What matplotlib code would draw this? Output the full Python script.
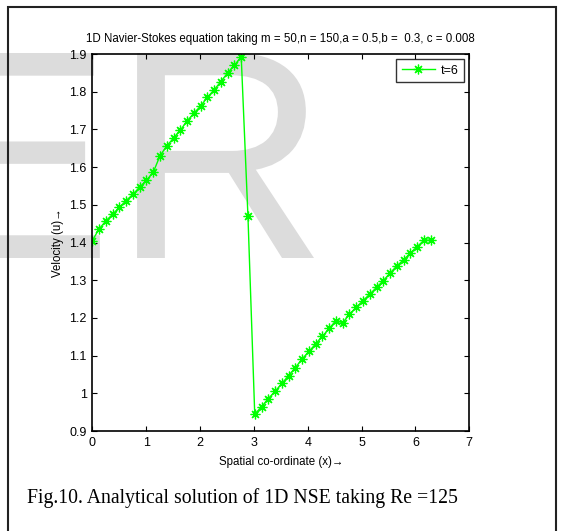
import numpy as np
import matplotlib
matplotlib.use("Agg")
import matplotlib.pyplot as plt
from matplotlib.patches import Rectangle, PathPatch
from matplotlib.textpath import TextPath
from matplotlib.font_manager import FontProperties
from matplotlib.transforms import Affine2D, IdentityTransform

# spatial grid and velocity at t=6
x = [0.000, 0.126, 0.251, 0.377, 0.503, 0.628, 0.754, 0.880, 1.005, 1.131,
     1.257, 1.382, 1.508, 1.634, 1.759, 1.885, 2.011, 2.136, 2.262, 2.388,
     2.513, 2.639, 2.765, 2.890, 3.016, 3.142, 3.267, 3.393, 3.519, 3.644,
     3.770, 3.896, 4.021, 4.147, 4.273, 4.398, 4.524, 4.650, 4.775, 4.901,
     5.027, 5.152, 5.278, 5.404, 5.529, 5.655, 5.781, 5.906, 6.032, 6.158,
     6.283]
u = [1.405, 1.436, 1.457, 1.475, 1.493, 1.511, 1.528, 1.547, 1.565, 1.586,
     1.630, 1.656, 1.677, 1.698, 1.722, 1.743, 1.762, 1.785, 1.805, 1.827,
     1.850, 1.870, 1.893, 1.470, 0.945, 0.964, 0.986, 1.005, 1.026, 1.047,
     1.068, 1.091, 1.111, 1.131, 1.151, 1.172, 1.193, 1.187, 1.210, 1.228,
     1.246, 1.263, 1.281, 1.299, 1.319, 1.338, 1.354, 1.372, 1.389, 1.406,
     1.406]

xticks = [0, 1, 2, 3, 4, 5, 6, 7]
yticks = [0.9, 1.0, 1.1, 1.2, 1.3, 1.4, 1.5, 1.6, 1.7, 1.8, 1.9]
ytick_labels = ['0.9', '1', '1.1', '1.2', '1.3', '1.4', '1.5', '1.6', '1.7', '1.8', '1.9']

title = '1D Navier-Stokes equation taking m = 50,n = 150,a = 0.5,b =  0.3, c = 0.008'
caption = 'Fig.10. Analytical solution of 1D NSE taking Re =125'

plt.rcParams['font.family'] = ['Liberation Sans', 'DejaVu Sans']

W, H = 561, 531
fig = plt.figure(figsize=(W / 100, H / 100), dpi=100)

# background watermark, placed in pixels: R's right edge at 314, cap 53..258 from top
tp = TextPath((0, 0), 'ER', size=100, prop=FontProperties(family='Liberation Sans'))
ext = tp.get_extents()
k = 205.0 / (ext.y1 - ext.y0)
wm = Affine2D().translate(-ext.x1, -ext.y0).scale(k).translate(314, H - 258)
fig.patches.append(PathPatch(tp, transform=wm + IdentityTransform(),
                             facecolor='#dcdcdc', edgecolor='none', zorder=-5))

# page frame
fig.patches.append(Rectangle((8 / W, -0.05), 548 / W, 1.05 - 7 / H,
                             transform=fig.transFigure, fill=False,
                             edgecolor='#222222', lw=1.5, zorder=-4))

ax = fig.add_axes([92.3 / W, 1 - 431 / H, 377 / W, 377 / H])
ax.patch.set_visible(False)

ax.plot(x, u, color='#00ff00', lw=1.0, marker=(8, 2, 0), ms=7, mew=0.9,
        label='t=6')

ax.set_xlim(0, 7)
ax.set_ylim(0.9, 1.9)
ax.set_xticks(xticks)
ax.set_yticks(yticks)
ax.set_yticklabels(ytick_labels)
ax.tick_params(direction='in', top=True, right=True, length=3.5, width=0.8,
               labelsize=9, pad=4)
for s in ax.spines.values():
    s.set_linewidth(1.2)

ax.set_title(title, fontsize=8.3, pad=9)
ax.set_xlabel('Spatial co-ordinate (x)\u2192', fontsize=8.3, labelpad=5)
ax.set_ylabel('Velocity (u)\u2192', fontsize=8.3, labelpad=4)

leg = ax.legend(loc='upper right', fancybox=False, edgecolor='black',
                fontsize=9, borderaxespad=0.4, handlelength=2.6,
                handletextpad=0.5, borderpad=0.45)
leg.get_frame().set_linewidth(1.0)

fig.text(27 / W, 1 - 503 / H, caption, fontsize=14.2,
         family='Liberation Serif', ha='left', va='baseline')

fig.savefig('out.png', dpi=100)
